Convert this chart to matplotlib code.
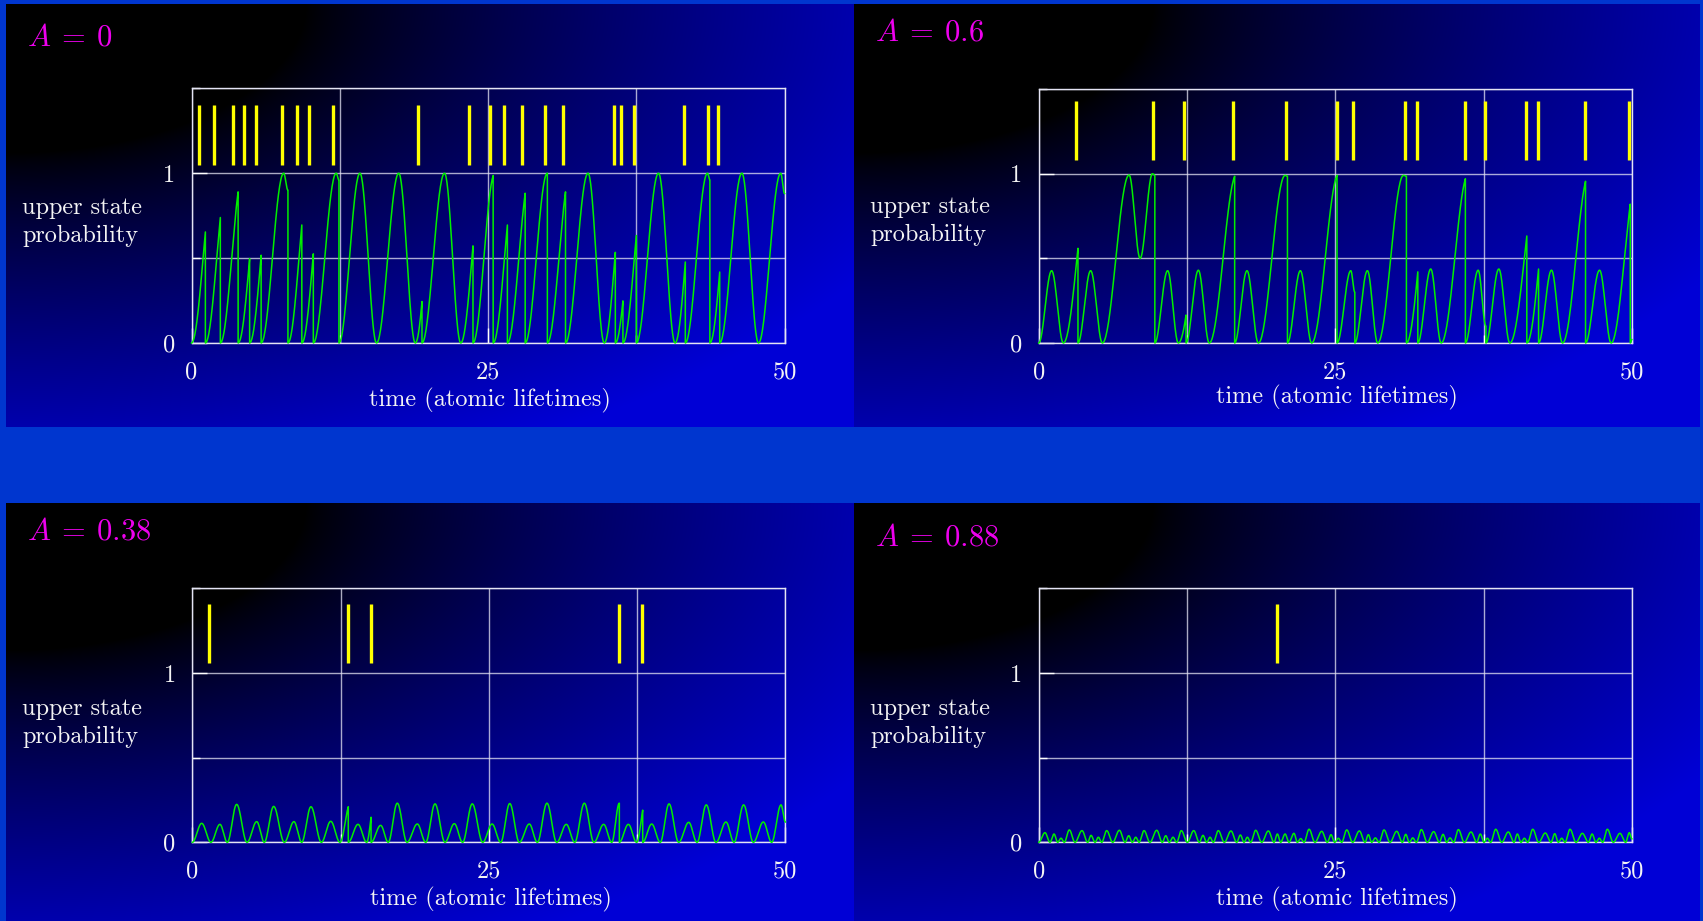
import numpy as np
import matplotlib
matplotlib.use("Agg")
import matplotlib.pyplot as plt

plt.rcParams.update({
    'font.family': 'serif',
    'font.serif': ['cmr10'],
    'mathtext.fontset': 'cm',
    'axes.unicode_minus': False,
})

W, H = 1703, 921

titles = [r'$A\:=\:0$', r'$A\:=\:0.6$', r'$A\:=\:0.38$', r'$A\:=\:0.88$']
x_ticklabels = ['0', '25', '50']
y_ticklabels = ['0', '1']

# photon detection times (yellow markers), atomic lifetimes
bars_a0 = [0.67, 1.93, 3.47, 4.43, 5.4, 7.67, 8.87, 9.87, 11.97, 19.1, 23.43,
           25.13, 26.37, 27.9, 29.77, 31.3, 35.6, 36.17, 37.3, 41.5, 43.57, 44.4]
bars_a06 = [3.13, 9.63, 12.23, 16.4, 20.83, 25.13, 26.53, 30.9, 31.9, 35.9,
            37.63, 41.1, 42.1, 46.07, 49.77]
bars_a038 = [1.4, 13.13, 15.03, 35.93, 37.9]
bars_a088 = [20.1]

# upper state probability, turning points of the trace;
# a repeated time means a jump back to the ground state
trace_a0 = [
    (0, 0), (1.17, 0.654), (1.17, 0), (2.43, 0.739), (2.43, 0),
    (3.93, 0.89), (3.93, 0), (4.9, 0.497), (4.9, 0), (5.87, 0.517), (5.87, 0),
    (7.77, 1.0), (8.13, 0.9), (8.13, 0), (9.3, 0.695), (9.3, 0),
    (10.27, 0.525), (10.27, 0), (12.2, 1.0), (12.43, 0.96), (12.43, 0),
    (14.2, 1.0), (15.6, 0), (17.47, 1.0), (18.87, 0), (19.43, 0.244), (19.43, 0),
    (21.33, 1.0), (22.7, 0), (23.73, 0.572), (23.73, 0),
    (25.43, 0.986), (25.43, 0), (26.63, 0.695), (26.63, 0),
    (28.13, 0.882), (28.13, 0), (30.0, 1.0), (30.0, 0), (31.53, 0.89), (31.53, 0),
    (33.43, 1.0), (34.8, 0), (35.73, 0.534), (35.73, 0),
    (36.37, 0.248), (36.37, 0), (37.5, 0.633), (37.5, 0),
    (39.37, 1.0), (40.77, 0), (41.63, 0.477), (41.63, 0),
    (43.5, 1.0), (43.7, 0.96), (43.7, 0), (44.53, 0.418), (44.53, 0),
    (46.4, 1.0), (47.8, 0), (49.67, 1.0), (50, 0.88),
]
trace_a06 = [
    (0, 0), (1.09, 0.427), (2.08, 0), (3.31, 0.559), (3.31, 0),
    (4.38, 0.427), (5.37, 0), (7.62, 0.992), (8.55, 0.5), (9.59, 1.0), (9.79, 0.99), (9.79, 0),
    (10.87, 0.427), (11.77, 0), (12.42, 0.165), (12.42, 0),
    (13.46, 0.43), (14.38, 0), (16.52, 0.985), (16.52, 0),
    (17.56, 0.427), (18.52, 0), (20.77, 0.99), (20.97, 0.985), (20.97, 0),
    (22.06, 0.427), (23.01, 0), (25.15, 0.99), (25.15, 0),
    (26.31, 0.427), (26.65, 0.3), (26.65, 0),
    (27.71, 0.427), (28.58, 0), (30.75, 0.99), (31.0, 0.985), (31.0, 0),
    (31.96, 0.42), (31.96, 0),
    (33.05, 0.437), (33.93, 0), (35.97, 0.97), (35.97, 0),
    (37.05, 0.43), (37.7, 0.1), (37.7, 0),
    (38.79, 0.437), (39.72, 0), (41.15, 0.632), (41.15, 0),
    (42.14, 0.437), (42.14, 0),
    (43.23, 0.43), (44.16, 0), (46.1, 0.955), (46.1, 0),
    (47.28, 0.43), (48.26, 0), (49.87, 0.82), (49.87, 0), (50, 0.02),
]
trace_a038 = [
    (0, 0), (0.79, 0.112), (1.57, 0), (2.33, 0.106), (2.95, 0), (3.74, 0.224),
    (4.61, 0), (5.43, 0.122), (6.07, 0), (6.86, 0.212), (7.76, 0), (8.57, 0.122),
    (9.22, 0), (10.0, 0.21), (10.88, 0), (11.67, 0.124), (12.45, 0),
    (13.15, 0.21), (13.15, 0), (13.97, 0.106), (14.7, 0), (15.07, 0.148), (15.07, 0),
    (15.88, 0.10), (16.52, 0), (17.28, 0.231), (18.1, 0), (18.97, 0.108),
    (19.68, 0), (20.46, 0.227), (21.3, 0), (22.09, 0.11), (22.79, 0),
    (23.6, 0.227), (24.48, 0), (25.27, 0.108), (26.0, 0), (26.76, 0.229),
    (27.57, 0), (28.41, 0.108), (29.09, 0), (29.9, 0.231), (30.72, 0),
    (31.53, 0.106), (32.24, 0), (33.05, 0.231), (33.86, 0), (34.68, 0.106),
    (35.36, 0), (36.0, 0.231), (36.0, 0), (36.76, 0.106), (37.46, 0),
    (37.97, 0.19), (37.97, 0), (38.73, 0.108), (39.45, 0), (40.19, 0.227),
    (41.0, 0), (41.85, 0.118), (42.55, 0), (43.33, 0.221), (44.15, 0),
    (44.99, 0.12), (45.67, 0), (46.48, 0.221), (47.3, 0), (48.14, 0.12),
    (48.84, 0), (49.63, 0.221), (50, 0.12),
]
trace_a088 = [
    (0, 0), (0.53, 0.057), (0.95, 0), (1.29, 0.049), (1.6, 0), (1.88, 0.024),
    (2.16, 0), (2.58, 0.073), (3.06, 0), (3.65, 0.069), (4.13, 0), (4.41, 0.041),
    (4.75, 0), (5.03, 0.03), (5.31, 0), (5.73, 0.069), (6.24, 0), (6.8, 0.071),
    (7.28, 0), (7.59, 0.039), (7.89, 0), (8.18, 0.03), (8.46, 0), (8.88, 0.069),
    (9.38, 0), (9.95, 0.071), (10.42, 0), (10.71, 0.039), (11.01, 0), (11.32, 0.03),
    (11.63, 0), (12.02, 0.069), (12.53, 0), (13.07, 0.069), (13.54, 0),
    (13.85, 0.041), (14.16, 0), (14.44, 0.03), (14.72, 0), (15.14, 0.069),
    (15.65, 0), (16.21, 0.067), (16.69, 0), (17.0, 0.043), (17.31, 0),
    (17.59, 0.03), (17.87, 0), (18.29, 0.071), (18.8, 0), (19.36, 0.067),
    (19.84, 0), (20.12, 0.049), (20.4, 0), (20.77, 0.049), (21.1, 0),
    (21.52, 0.053), (21.8, 0), (22.09, 0.022), (22.37, 0), (22.79, 0.077),
    (23.29, 0), (23.86, 0.065), (24.33, 0), (24.64, 0.045), (24.95, 0),
    (25.26, 0.024), (25.54, 0), (25.97, 0.073), (26.47, 0), (27.03, 0.067),
    (27.51, 0), (27.79, 0.045), (28.07, 0), (28.38, 0.026), (28.69, 0),
    (29.11, 0.073), (29.62, 0), (30.18, 0.065), (30.66, 0), (30.94, 0.047),
    (31.25, 0), (31.53, 0.026), (31.84, 0), (32.26, 0.075), (32.76, 0),
    (33.3, 0.063), (33.77, 0), (34.09, 0.047), (34.39, 0), (34.67, 0.026),
    (34.98, 0), (35.38, 0.075), (35.88, 0), (36.45, 0.061), (36.92, 0),
    (37.23, 0.049), (37.54, 0), (37.82, 0.024), (38.1, 0), (38.53, 0.077),
    (39.03, 0), (39.59, 0.061), (40.07, 0), (40.35, 0.049), (40.66, 0),
    (40.94, 0.024), (41.22, 0), (41.65, 0.077), (42.15, 0), (42.71, 0.055),
    (43.19, 0), (43.5, 0.051), (43.81, 0), (44.09, 0.024), (44.37, 0),
    (44.79, 0.077), (45.3, 0), (45.83, 0.053), (46.34, 0), (46.65, 0.049),
    (46.98, 0), (47.26, 0.024), (47.54, 0), (47.94, 0.077), (48.44, 0),
    (49.0, 0.053), (49.48, 0), (49.79, 0.057), (50, 0.02),
]


def smooth(knots, full):
    """Join the turning points with Rabi-like arcs; rises cut by a jump stay steep."""
    ts, ps = [knots[0][0]], [knots[0][1]]
    s = np.linspace(0, 1, 40)[1:]
    for i in range(len(knots) - 1):
        (t0, p0), (t1, p1) = knots[i], knots[i + 1]
        if t1 == t0:
            ts.append(t1)
            ps.append(p1)
            continue
        cut = i + 2 < len(knots) and knots[i + 2][0] == t1 and p1 > p0
        if cut:
            th = np.arcsin(np.sqrt(min((p1 - p0) / full, 1.0)))
            shape = (np.sin(th * s) / np.sin(th)) ** 2
        else:
            shape = (1 - np.cos(np.pi * s)) / 2
        ts.extend(t0 + (t1 - t0) * s)
        ps.extend(p0 + (p1 - p0) * shape)
    return ts, ps


fig = plt.figure(figsize=(W / 100, H / 100), dpi=100)
fig.patch.set_facecolor('#0036cf')


def px_rect(x0, y0, x1, y1):
    return [x0 / W, 1 - y1 / H, (x1 - x0) / W, (y1 - y0) / H]


def background(x0, y0, x1, y1):
    # black in the top left corner, fading out to blue towards bottom right
    bg = fig.add_axes(px_rect(x0, y0, x1, y1), zorder=0)
    w, h = int(x1 - x0), int(y1 - y0)
    xf = np.linspace(0, 1, w)[None, :]
    yf = np.linspace(0, 1, h)[:, None]
    r = np.sqrt((xf ** 2 + yf ** 2) / 2)
    img = np.zeros((h, w, 3))
    img[..., 2] = 0.843 * np.clip((r - 0.25) / 0.6, 0, 1) ** 0.8
    bg.imshow(img, aspect='auto', extent=(0, 1, 0, 1), interpolation='bilinear')
    bg.set_axis_off()


panels = [
    dict(bg=(6, 4, 854, 427), ax=(191.5, 88.3, 784.6, 343), bars=bars_a0, trace=trace_a0,
         full=1.0, span=(1.05, 1.40), ty=38, ly=222, xy=400),
    dict(bg=(854, 4, 1700, 427), ax=(1038.7, 89, 1631.8, 343), bars=bars_a06, trace=trace_a06,
         full=1.0, span=(1.08, 1.43), ty=33, ly=221, xy=397),
    dict(bg=(6, 503, 854, 921), ax=(192.3, 588.3, 785.4, 842.3), bars=bars_a038, trace=trace_a038,
         full=0.23, span=(1.06, 1.41), ty=532, ly=723, xy=899),
    dict(bg=(854, 503, 1700, 921), ax=(1038.7, 588.3, 1631.8, 842.3), bars=bars_a088, trace=trace_a088,
         full=0.08, span=(1.06, 1.41), ty=538, ly=723, xy=899),
]

for title, p in zip(titles, panels):
    background(*p['bg'])
    ax = fig.add_axes(px_rect(*p['ax']), zorder=1)
    ax.patch.set_alpha(0)
    ax.set_xlim(0, 50)
    ax.set_ylim(0, 1.5)
    ax.set_xticks([0, 25, 50])
    ax.set_xticklabels(x_ticklabels)
    ax.set_xticks([12.5, 37.5], minor=True)
    ax.set_yticks([0, 1])
    ax.set_yticklabels(y_ticklabels)
    ax.set_yticks([0.5, 1.5], minor=True)
    ax.grid(True, which='both', color='#e4e4f4', lw=1.0, alpha=0.75)
    ax.set_axisbelow(True)
    for sp in ax.spines.values():
        sp.set_color('#e4e4f4')
        sp.set_linewidth(1.0)
    ax.tick_params(which='both', direction='in', color='white', width=1.0,
                   labelcolor='#f4f4f4', labelsize=17.5)
    ax.tick_params(which='major', length=11)
    ax.tick_params(which='minor', length=6)
    ax.tick_params(axis='x', pad=13)
    ax.tick_params(axis='y', pad=12)

    ax.vlines(p['bars'], *p['span'], color='#ffff00', lw=2.4, zorder=3)
    ts, ps = smooth(p['trace'], p['full'])
    ax.plot(ts, ps, color='#00ee00', lw=1.1, zorder=4, clip_on=False)

    x0 = p['bg'][0]
    fig.text((x0 + 21) / W, 1 - p['ty'] / H, title, color='#ee00ee', fontsize=22,
             ha='left', va='center')
    fig.text((x0 + 16) / W, 1 - p['ly'] / H, 'upper state\nprobability', color='#f4f4f4',
             fontsize=17.5, ha='left', va='center', linespacing=1.3)
    axl, _, axr, _ = p['ax']
    fig.text(((axl + axr) / 2 + 2) / W, 1 - p['xy'] / H, 'time (atomic lifetimes)',
             color='#f4f4f4', fontsize=17.5, ha='center', va='center')

fig.savefig('out.png', dpi=100, facecolor=fig.get_facecolor())
